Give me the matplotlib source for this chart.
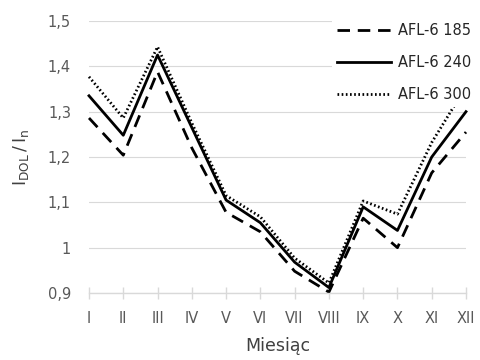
import matplotlib
matplotlib.use("Agg")
import matplotlib.pyplot as plt

months = ["I", "II", "III", "IV", "V", "VI", "VII", "VIII", "IX", "X", "XI", "XII"]
afl185 = [1.286, 1.204, 1.388, 1.22, 1.078, 1.035, 0.948, 0.902, 1.065, 1.0, 1.165, 1.255]
afl240 = [1.335, 1.248, 1.425, 1.265, 1.105, 1.055, 0.968, 0.912, 1.09, 1.038, 1.2, 1.30]
afl300 = [1.377, 1.286, 1.443, 1.275, 1.115, 1.068, 0.977, 0.922, 1.103, 1.074, 1.232, 1.355]
labels = ["AFL-6 185", "AFL-6 240", "AFL-6 300"]
yticks = [0.9, 1.0, 1.1, 1.2, 1.3, 1.4, 1.5]
ytick_labels = ["0,9", "1", "1,1", "1,2", "1,3", "1,4", "1,5"]

plt.rcParams['font.family'] = ['DejaVu Sans']

fig = plt.figure(figsize=(4.81, 3.6), dpi=100)
ax = fig.add_axes([89/481, 1-293/360, (466-89)/481, (293-21)/360])

x = list(range(len(months)))
ax.plot(x, afl185, color='black', lw=2.0, linestyle=(0, (4.5, 2.8)), label=labels[0], clip_on=False)
ax.plot(x, afl240, color='black', lw=2.0, linestyle='-', label=labels[1], clip_on=False)
ax.plot(x, afl300, color='black', lw=2.0, linestyle=(0, (0.6, 0.9)), label=labels[2], clip_on=False)

ax.set_xlim(0, len(months)-1)
ax.set_ylim(0.9, 1.5)
ax.set_yticks(yticks)
ax.set_yticklabels(ytick_labels)
ax.set_xticks(x)
ax.set_xticklabels(months)

for s in ['top', 'right', 'left']:
    ax.spines[s].set_visible(False)
ax.spines['bottom'].set_color('#d9d9d9')
ax.spines['bottom'].set_linewidth(1.0)
ax.grid(axis='y', color='#d9d9d9', lw=0.8)
ax.set_axisbelow(True)
ax.tick_params(axis='y', length=0, pad=13, labelsize=10.5, labelcolor='#595959')
ax.tick_params(axis='x', length=8, direction='inout', color='#d9d9d9', width=1.0,
               pad=9, labelsize=10.5, labelcolor='#595959')

ax.set_xlabel("Miesiąc", fontsize=12.5, color='#404040', labelpad=8)
ax.set_ylabel(r"$\mathregular{I_{DOL}\,/\,I_n}$", fontsize=12.5, color='#404040', labelpad=12)

leg = fig.legend(loc='upper right', bbox_to_anchor=(1.005, 0.97), frameon=True, fancybox=False,
                 edgecolor='none', facecolor='white', framealpha=1.0, fontsize=10.5,
                 handlelength=3.7, handletextpad=0.45, labelspacing=1.15, borderpad=0.35)
for t in leg.get_texts():
    t.set_color('#262626')

fig.savefig("out.png", dpi=100)
